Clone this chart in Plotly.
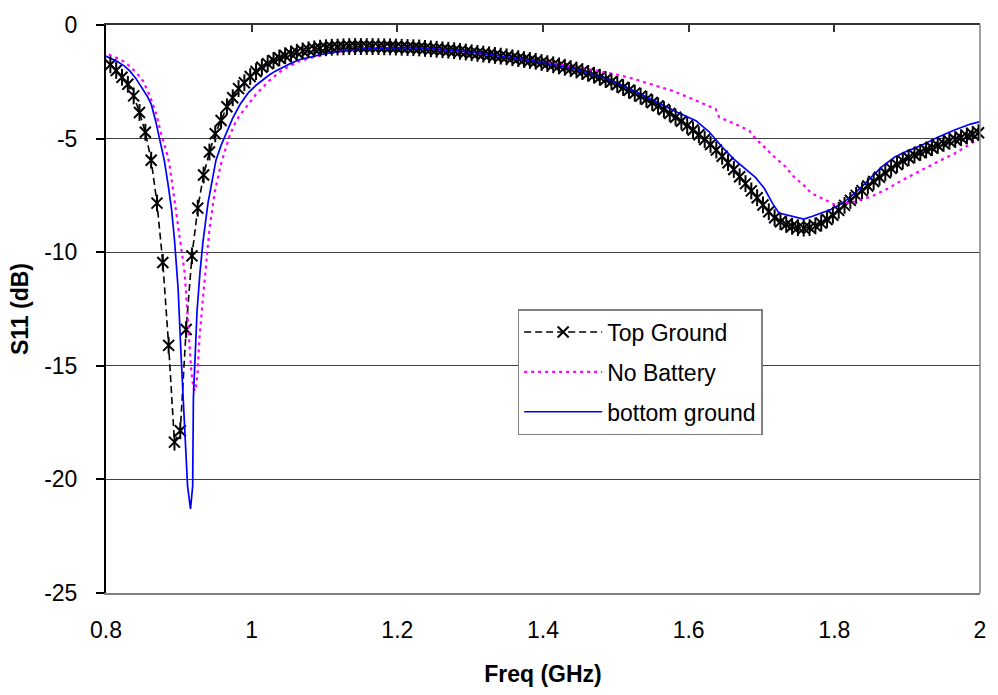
import plotly.graph_objects as go

# ---- Top Ground: one sample every 8 MHz (markers at every sample) ----
FREQ_TOP = [
    0.798, 0.806, 0.814, 0.822, 0.830, 0.838, 0.846, 0.854, 0.862, 0.870,
    0.878, 0.886, 0.894, 0.902, 0.910, 0.918, 0.926, 0.934, 0.942, 0.950,
    0.958, 0.966, 0.974, 0.982, 0.990, 0.998, 1.006, 1.014, 1.022, 1.030,
    1.038, 1.046, 1.054, 1.062, 1.070, 1.078, 1.086, 1.094, 1.102, 1.110,
    1.118, 1.126, 1.134, 1.142, 1.150, 1.158, 1.166, 1.174, 1.182, 1.190,
    1.198, 1.206, 1.214, 1.222, 1.230, 1.238, 1.246, 1.254, 1.262, 1.270,
    1.278, 1.286, 1.294, 1.302, 1.310, 1.318, 1.326, 1.334, 1.342, 1.350,
    1.358, 1.366, 1.374, 1.382, 1.390, 1.398, 1.406, 1.414, 1.422, 1.430,
    1.438, 1.446, 1.454, 1.462, 1.470, 1.478, 1.486, 1.494, 1.502, 1.510,
    1.518, 1.526, 1.534, 1.542, 1.550, 1.558, 1.566, 1.574, 1.582, 1.590,
    1.598, 1.606, 1.614, 1.622, 1.630, 1.638, 1.646, 1.654, 1.662, 1.670,
    1.678, 1.686, 1.694, 1.702, 1.710, 1.718, 1.726, 1.734, 1.742, 1.750,
    1.758, 1.766, 1.774, 1.782, 1.790, 1.798, 1.806, 1.814, 1.822, 1.830,
    1.838, 1.846, 1.854, 1.862, 1.870, 1.878, 1.886, 1.894, 1.902, 1.910,
    1.918, 1.926, 1.934, 1.942, 1.950, 1.958, 1.966, 1.974, 1.982, 1.990,
    1.998, 2.006,
]
S11_TOP = [
    -1.50, -1.75, -2.00, -2.30, -2.61, -3.12, -3.85, -4.72, -5.95, -7.84,
    -10.45, -14.10, -18.36, -17.86, -13.40, -10.16, -8.06, -6.60, -5.59, -4.79,
    -4.20, -3.60, -3.20, -2.80, -2.54, -2.27, -2.05, -1.86, -1.70, -1.56,
    -1.45, -1.35, -1.27, -1.20, -1.14, -1.09, -1.05, -1.02, -1.00, -0.98,
    -0.97, -0.96, -0.95, -0.95, -0.95, -0.95, -0.95, -0.95, -0.96, -0.96,
    -0.97, -0.98, -0.99, -1.00, -1.01, -1.03, -1.05, -1.07, -1.09, -1.11,
    -1.13, -1.16, -1.19, -1.22, -1.25, -1.28, -1.31, -1.34, -1.37, -1.40,
    -1.44, -1.48, -1.52, -1.56, -1.60, -1.65, -1.70, -1.75, -1.80, -1.86,
    -1.92, -1.98, -2.05, -2.13, -2.21, -2.30, -2.40, -2.50, -2.62, -2.75,
    -2.87, -3.00, -3.13, -3.27, -3.41, -3.56, -3.72, -3.89, -4.06, -4.24,
    -4.43, -4.62, -4.83, -5.04, -5.26, -5.50, -5.78, -6.06, -6.36, -6.68,
    -6.98, -7.30, -7.60, -7.92, -8.22, -8.48, -8.66, -8.78, -8.86, -8.92,
    -8.94, -8.92, -8.84, -8.72, -8.56, -8.37, -8.16, -7.94, -7.72, -7.50,
    -7.29, -7.09, -6.89, -6.70, -6.50, -6.31, -6.14, -5.98, -5.84, -5.72,
    -5.61, -5.50, -5.40, -5.30, -5.21, -5.12, -5.04, -4.96, -4.88, -4.81,
    -4.74, -4.68,
]

# ---- No Battery ----
FREQ_NOBAT = [
    0.795, 0.805, 0.815, 0.824, 0.834, 0.843, 0.851, 0.860, 0.869, 0.875,
    0.880, 0.884, 0.887, 0.891, 0.894, 0.899, 0.903, 0.908, 0.911, 0.914,
    0.917, 0.920, 0.923, 0.926, 0.928, 0.933, 0.938, 0.942, 0.949, 0.958,
    0.969, 0.976, 0.983, 0.990, 1.006, 1.024, 1.042, 1.065, 1.096, 1.125,
    1.150, 1.180, 1.210, 1.240, 1.270, 1.300, 1.330, 1.360, 1.390, 1.420,
    1.450, 1.475, 1.501, 1.520, 1.542, 1.560, 1.578, 1.597, 1.615, 1.637,
    1.642, 1.660, 1.683, 1.692, 1.705, 1.715, 1.733, 1.745, 1.760, 1.768,
    1.778, 1.790, 1.801, 1.815, 1.828, 1.851, 1.874, 1.895, 1.919, 1.942,
    1.965, 1.985, 2.000, 2.006,
]
S11_NOBAT = [
    -1.18, -1.30, -1.45, -1.60, -1.85, -2.15, -2.47, -3.10, -3.92, -4.70,
    -5.23, -5.70, -6.10, -7.00, -7.70, -8.71, -9.58, -10.90, -12.30, -13.80,
    -15.20, -16.00, -16.10, -15.20, -13.90, -12.05, -10.20, -9.00, -7.40, -6.10,
    -4.94, -4.40, -4.00, -3.70, -3.05, -2.45, -1.98, -1.60, -1.31, -1.15,
    -1.06, -1.01, -1.00, -1.03, -1.10, -1.20, -1.32, -1.45, -1.58, -1.72,
    -1.88, -2.02, -2.18, -2.33, -2.54, -2.72, -2.90, -3.15, -3.41, -3.70,
    -4.06, -4.30, -4.65, -5.01, -5.40, -5.73, -6.24, -6.70, -7.11, -7.40,
    -7.55, -7.75, -7.91, -7.85, -7.77, -7.55, -7.19, -6.80, -6.39, -6.02,
    -5.66, -5.25, -4.94, -4.85,
]

# ---- bottom ground ----
FREQ_BOTTOM = [
    0.795, 0.805, 0.815, 0.825, 0.833, 0.841, 0.849, 0.856, 0.862, 0.868,
    0.874, 0.880, 0.885, 0.890, 0.894, 0.899, 0.903, 0.908, 0.912, 0.916,
    0.919, 0.920, 0.925, 0.929, 0.933, 0.940, 0.945, 0.951, 0.958, 0.965,
    0.974, 0.984, 0.995, 1.006, 1.015, 1.024, 1.033, 1.042, 1.053, 1.065,
    1.080, 1.096, 1.115, 1.135, 1.160, 1.185, 1.210, 1.235, 1.260, 1.285,
    1.310, 1.335, 1.360, 1.385, 1.410, 1.435, 1.460, 1.485, 1.510, 1.535,
    1.560, 1.585, 1.610, 1.628, 1.646, 1.662, 1.678, 1.692, 1.704, 1.715,
    1.724, 1.737, 1.748, 1.758, 1.770, 1.783, 1.795, 1.805, 1.817, 1.828,
    1.840, 1.851, 1.866, 1.883, 1.900, 1.919, 1.942, 1.965, 1.987, 2.006,
]
S11_BOTTOM = [
    -1.30, -1.45, -1.60, -1.80, -2.03, -2.35, -2.76, -3.10, -3.48, -4.20,
    -5.08, -5.95, -6.97, -8.10, -9.44, -11.60, -14.50, -17.40, -20.30, -21.30,
    -20.30, -16.40, -12.60, -10.90, -9.58, -7.84, -6.90, -5.95, -5.30, -4.79,
    -4.10, -3.50, -3.00, -2.65, -2.42, -2.20, -2.02, -1.87, -1.70, -1.53,
    -1.40, -1.29, -1.18, -1.10, -1.04, -1.01, -1.00, -1.02, -1.07, -1.14,
    -1.23, -1.33, -1.45, -1.58, -1.72, -1.88, -2.08, -2.33, -2.68, -3.05,
    -3.45, -3.85, -4.21, -4.70, -5.37, -5.90, -6.35, -6.72, -7.20, -7.84,
    -8.28, -8.39, -8.45, -8.54, -8.42, -8.28, -8.12, -7.96, -7.70, -7.40,
    -7.05, -6.68, -6.22, -5.81, -5.55, -5.30, -4.94, -4.62, -4.36, -4.20,
]

X_TICKS = [0.8, 1.0, 1.2, 1.4, 1.6, 1.8, 2.0]
X_TICK_LABELS = ["0.8", "1", "1.2", "1.4", "1.6", "1.8", "2"]
Y_TICKS = [0, -5, -10, -15, -20, -25]
Y_TICK_LABELS = ["0", "-5", "-10", "-15", "-20", "-25"]

FONT = "Liberation Sans, Arial, sans-serif"

fig = go.Figure()

# Top Ground: dashed black line with "x" markers ...
fig.add_trace(go.Scatter(
    x=FREQ_TOP, y=S11_TOP, name="Top Ground", mode="lines+markers",
    line=dict(color="black", width=1.6, dash="7px,4px"),
    marker=dict(symbol="x-thin-open", size=11, color="black",
                line=dict(color="black", width=2)),
    cliponaxis=False, legendgroup="a",
))
# ... plus a vertical stroke through each marker to form an asterisk
# (drawn against the top x axis, which shares the same range)
fig.add_trace(go.Scatter(
    x=FREQ_TOP, y=S11_TOP, mode="markers", showlegend=False,
    xaxis="x2", yaxis="y",
    marker=dict(symbol="line-ns-open", size=12, color="black",
                line=dict(color="black", width=2)),
    cliponaxis=False, legendgroup="a", hoverinfo="skip",
))
fig.add_trace(go.Scatter(
    x=FREQ_NOBAT, y=S11_NOBAT, name="No Battery", mode="lines",
    line=dict(color="#FF00FF", width=2.2, dash="3px,4px"),
    legendgroup="b",
))
fig.add_trace(go.Scatter(
    x=FREQ_BOTTOM, y=S11_BOTTOM, name="bottom ground", mode="lines",
    line=dict(color="#0000FF", width=1.7),
    legendgroup="c",
))

fig.update_layout(
    width=998, height=695,
    margin=dict(l=106, r=12, t=20, b=101),
    paper_bgcolor="white", plot_bgcolor="white",
    font=dict(family=FONT, size=23, color="black"),
    showlegend=True,
    legend=dict(
        x=0.471, y=0.500, xanchor="left", yanchor="top",
        bgcolor="white", bordercolor="#808080", borderwidth=1.5,
        font=dict(family=FONT, size=23, color="black"),
        itemwidth=78, traceorder="grouped", tracegroupgap=7,
    ),
    xaxis=dict(
        range=[0.8, 2.0], tickvals=X_TICKS, ticktext=X_TICK_LABELS,
        ticks="", showgrid=False, zeroline=False,
        showline=True, linecolor="#808080", linewidth=1.5,
        tickfont=dict(family=FONT, size=23, color="black"),
        ticklabelstandoff=16,
        title=dict(text="<b>Freq (GHz)</b>", standoff=24,
                   font=dict(family=FONT, size=23, color="black")),
    ),
    # top frame edge carrying the inward tick marks
    xaxis2=dict(
        range=[0.8, 2.0], overlaying="x", side="top", anchor="y",
        tickvals=X_TICKS, ticks="inside", ticklen=7, tickwidth=1.5,
        tickcolor="#333333", showticklabels=False, showgrid=False,
        zeroline=False, showline=True, linecolor="#333333", linewidth=2,
    ),
    yaxis=dict(
        range=[-25, 0], tickvals=Y_TICKS, ticktext=Y_TICK_LABELS,
        ticks="outside", ticklen=8, tickwidth=1.5, tickcolor="black",
        showline=True, linecolor="black", linewidth=2,
        showgrid=True, gridcolor="#404040", gridwidth=1, zeroline=False,
        tickfont=dict(family=FONT, size=23, color="black"),
        ticklabelstandoff=14,
        title=dict(text="<b>S11 (dB)</b>", standoff=9,
                   font=dict(family=FONT, size=23, color="black")),
    ),
    shapes=[dict(type="line", xref="paper", yref="paper",
                 x0=1, x1=1, y0=0, y1=1,
                 line=dict(color="#808080", width=1.5))],
)

fig.write_html("out.html")
